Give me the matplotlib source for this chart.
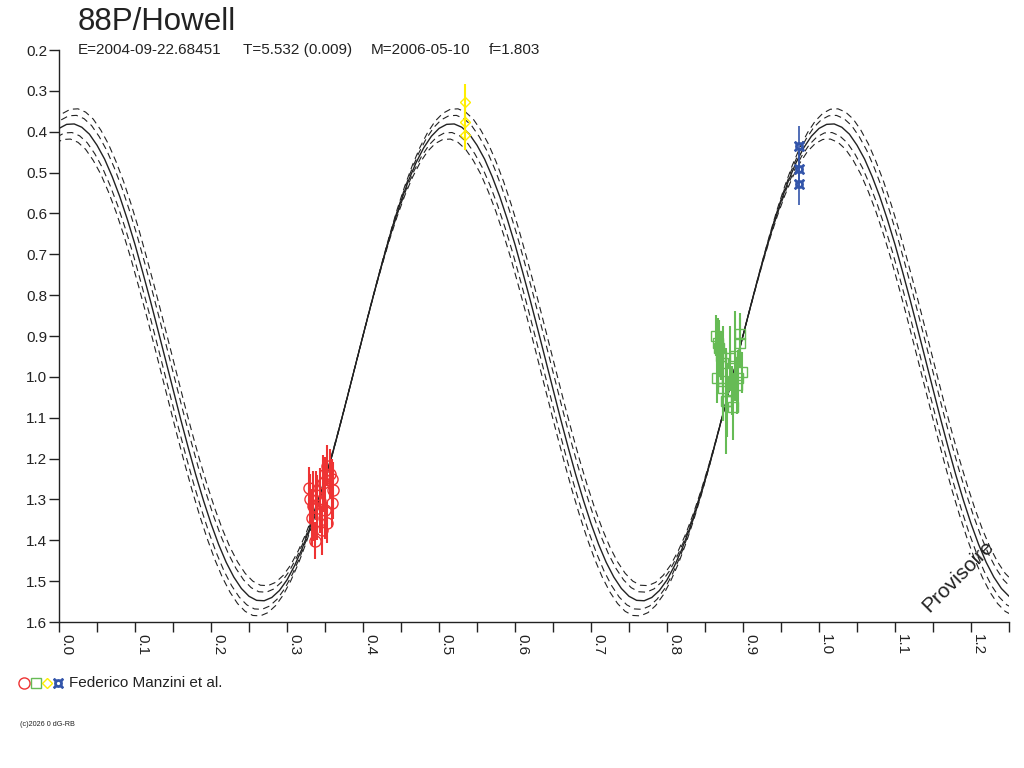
import matplotlib
matplotlib.use("Agg")
import matplotlib.pyplot as plt
from matplotlib.ticker import MultipleLocator, FormatStrFormatter

plt.rcParams['font.family'] = ['Liberation Sans', 'DejaVu Sans']

# model light curve, one cycle (0.5 in phase) read at steps of 0.01
model_cycle = [
    0.392, 0.382, 0.381, 0.389, 0.406, 0.433, 0.467, 0.510, 0.559, 0.615,
    0.676, 0.743, 0.812, 0.884, 0.957, 1.030, 1.103, 1.173, 1.240, 1.302,
    1.359, 1.410, 1.454, 1.490, 1.518, 1.537, 1.547, 1.548, 1.540, 1.523,
    1.497, 1.462, 1.420, 1.370, 1.314, 1.253, 1.187, 1.117, 1.045, 0.972,
    0.899, 0.827, 0.757, 0.690, 0.627, 0.570, 0.519, 0.475, 0.439, 0.411,
]
model_mag = model_cycle + model_cycle + model_cycle[:27]
model_phase = [i * 0.01 for i in range(len(model_mag))]
# uncertainty curves: (phase shift, mag shift)
band_offsets = [(0.005, -0.037), (0.0029, -0.021), (-0.0029, 0.021), (-0.005, 0.037)]

red_x = [0.353, 0.357, 0.350, 0.359, 0.361, 0.329, 0.330, 0.343, 0.347, 0.359,
         0.333, 0.353, 0.346, 0.337, 0.350, 0.340, 0.338, 0.334]
red_y = [1.217, 1.237, 1.237, 1.251, 1.278, 1.271, 1.298, 1.303, 1.261, 1.308,
         1.345, 1.357, 1.376, 1.401, 1.327, 1.320, 1.290, 1.316]
red_err = [0.05, 0.06, 0.04, 0.05, 0.07, 0.05, 0.06, 0.08, 0.07, 0.06,
           0.07, 0.05, 0.06, 0.045, 0.07, 0.08, 0.06, 0.085]

green_x = [0.867, 0.868, 0.896, 0.896, 0.883, 0.874, 0.866, 0.874, 0.899, 0.892,
           0.887, 0.879, 0.886, 0.893, 0.874, 0.864, 0.871, 0.878, 0.889]
green_y = [0.916, 0.930, 0.894, 0.916, 0.955, 0.965, 1.004, 1.009, 0.989, 1.021,
           1.075, 1.058, 1.033, 1.004, 1.028, 0.899, 0.948, 1.060, 0.950]
green_err = [0.06, 0.07, 0.05, 0.06, 0.08, 0.09, 0.06, 0.10, 0.05, 0.07,
             0.08, 0.09, 0.06, 0.07, 0.08, 0.05, 0.06, 0.13, 0.11]

yellow_x = [0.534, 0.534, 0.534]
yellow_y = [0.328, 0.375, 0.409]
yellow_err = [0.045, 0.04, 0.035]

blue_x = [0.974, 0.974, 0.974]
blue_y = [0.436, 0.492, 0.527]
blue_err = [0.05, 0.045, 0.053]

subtitle_parts = ['E=2004-09-22.68451', 'T=5.532 (0.009)', 'M=2006-05-10', 'f=1.803']
subtitle_x = [78, 243, 371, 489]

RED = '#ee3333'
GREEN = '#66bb55'
YELLOW = '#ffee00'
BLUE = '#3355aa'
INK = '#222222'
CURRENCY = '$\u00a4$'

fig = plt.figure(figsize=(10.24, 7.68), dpi=100)
ax = fig.add_axes([59 / 1024, 1 - 622 / 768, 950 / 1024, 572 / 768])

ax.plot(model_phase, model_mag, color=INK, lw=1.0)
for dx, dy in band_offsets:
    ax.plot([p + dx for p in model_phase], [m + dy for m in model_mag],
            color=INK, lw=0.8, ls=(0, (6, 4)))

ax.errorbar(red_x, red_y, yerr=red_err, fmt='o', ms=8, mfc='none', mec=RED,
            mew=1, ecolor=RED, elinewidth=1.5, capsize=0)
ax.errorbar(green_x, green_y, yerr=green_err, fmt='s', ms=6.5, mfc='none', mec=GREEN,
            mew=1, ecolor=GREEN, elinewidth=1.5, capsize=0)
ax.errorbar(yellow_x, yellow_y, yerr=yellow_err, fmt='D', ms=5.5, mfc='none', mec=YELLOW,
            mew=1, ecolor=YELLOW, elinewidth=1.5, capsize=0)
ax.errorbar(blue_x, blue_y, yerr=blue_err, fmt='none', ecolor=BLUE, elinewidth=1.2, capsize=0)
ax.plot(blue_x, blue_y, ls='none', marker=CURRENCY, ms=7, color=BLUE)

ax.set_xlim(0, 1.25)
ax.set_ylim(1.6, 0.2)
ax.spines['top'].set_visible(False)
ax.spines['right'].set_visible(False)
for s in ('left', 'bottom'):
    ax.spines[s].set_color(INK)
    ax.spines[s].set_linewidth(1)

ax.xaxis.set_major_locator(MultipleLocator(0.1))
ax.xaxis.set_minor_locator(MultipleLocator(0.05))
ax.xaxis.set_major_formatter(FormatStrFormatter('%.1f'))
ax.yaxis.set_major_locator(MultipleLocator(0.1))
ax.yaxis.set_major_formatter(FormatStrFormatter('%.1f'))
ax.tick_params(axis='both', which='both', length=7, width=1, color=INK,
               labelcolor=INK, labelsize=11, direction='out')
ax.tick_params(axis='y', pad=1.5)
ax.tick_params(axis='x', pad=2)
for lab in ax.get_xticklabels():
    lab.set_rotation(-90)
    lab.set_ha('left')
    lab.set_va('top')

fig.text(78 / 1024, 1 - 29.5 / 768, '88P/Howell', fontsize=22.5, color=INK, va='baseline')
for txt, xp in zip(subtitle_parts, subtitle_x):
    fig.text(xp / 1024, 1 - 54 / 768, txt, fontsize=11, color=INK, va='baseline')
fig.text(958 / 1024, 1 - 576 / 768, 'Provisoire', fontsize=15, color=INK,
         rotation=45, ha='center', va='center')

# legend row
leg_y = 1 - 683 / 768
for xp, mk, col, ms in [(24, 'o', RED, 8), (36, 's', GREEN, 6.5), (47, 'D', YELLOW, 5.5)]:
    fig.add_artist(plt.Line2D([xp / 1024], [leg_y], marker=mk, ms=ms, mfc='none',
                              mec=col, mew=1, ls='none'))
fig.add_artist(plt.Line2D([58 / 1024], [leg_y], marker=CURRENCY, ms=7, color=BLUE, ls='none'))
fig.text(69 / 1024, leg_y, 'Federico Manzini et al.', fontsize=11, color=INK, va='center')
fig.text(20 / 1024, 1 - 725 / 768, '(c)2026 0 dG-RB', fontsize=5.2, color=INK, va='center')

fig.savefig('out.png', dpi=100)
